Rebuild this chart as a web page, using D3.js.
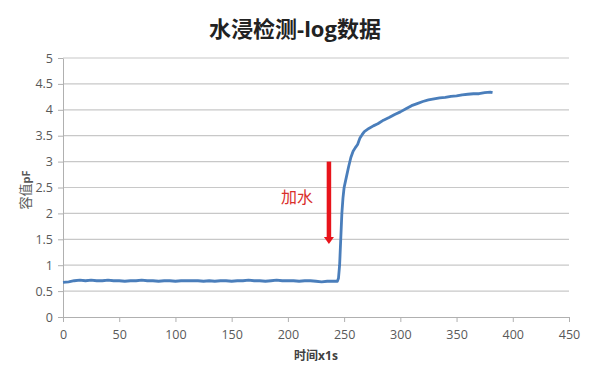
<!DOCTYPE html>
<html>
<head>
<meta charset="utf-8">
<script src="https://cdn.jsdelivr.net/npm/d3@7"></script>
<style>
  body { margin: 0; background: #fff; }
  text { font-family: "Open Sans", "Noto Sans CJK SC", sans-serif; }
</style>
</head>
<body>
<script>
// data
const seconds = [0, 5, 10, 15, 20, 25, 30, 35, 40, 45, 50, 55, 60, 65, 70, 75, 80, 85, 90, 95,
  100, 105, 110, 115, 120, 125, 130, 135, 140, 145, 150, 155, 160, 165, 170, 175, 180, 185, 190, 195,
  200, 205, 210, 215, 220, 225, 230, 235, 240, 244,
  245, 246, 247, 248, 249, 250, 252, 254, 256, 258, 260, 262, 264, 266, 268, 272, 276, 280, 285, 290,
  295, 300, 305, 310, 315, 320, 325, 330, 335, 340, 345, 350, 355, 360, 365, 370, 375, 380, 382];
const capacitance = [0.67, 0.68, 0.70, 0.71, 0.70, 0.71, 0.70, 0.70, 0.71, 0.70, 0.70, 0.69, 0.70, 0.70, 0.71, 0.70, 0.70, 0.69, 0.70, 0.70,
  0.69, 0.70, 0.70, 0.70, 0.70, 0.69, 0.70, 0.69, 0.70, 0.70, 0.69, 0.70, 0.70, 0.71, 0.70, 0.70, 0.69, 0.70, 0.71, 0.70,
  0.70, 0.70, 0.69, 0.70, 0.70, 0.69, 0.68, 0.69, 0.69, 0.69,
  0.75, 1.0, 1.5, 2.0, 2.3, 2.5, 2.7, 2.9, 3.08, 3.2, 3.27, 3.33, 3.45, 3.52, 3.58, 3.64, 3.69, 3.73, 3.80, 3.85,
  3.91, 3.96, 4.02, 4.08, 4.12, 4.16, 4.19, 4.21, 4.23, 4.24, 4.26, 4.27, 4.29, 4.30, 4.31, 4.31, 4.33, 4.34, 4.33];
const xTicks = [0, 50, 100, 150, 200, 250, 300, 350, 400, 450];
const yTicks = [0, 0.5, 1, 1.5, 2, 2.5, 3, 3.5, 4, 4.5, 5];
// annotation: water added
const arrowX = 236.5, arrowFrom = 3.0, arrowTo = 1.41;

const W = 600, H = 371;
const margin = { top: 58, right: 31, bottom: 54, left: 63 },
      width  = W - margin.left - margin.right,
      height = H - margin.top - margin.bottom;

const svg = d3.select("body").append("svg")
  .attr("width", W).attr("height", H);

const g = svg.append("g")
  .attr("transform", `translate(${margin.left},${margin.top})`);

const x = d3.scaleLinear().domain([0, 450]).range([0, width]);
const y = d3.scaleLinear().domain([0, 5]).range([height, 0]);

// gridlines
g.selectAll(".grid")
  .data(yTicks.filter(d => d > 0))
  .enter().append("line")
    .attr("x1", 0).attr("x2", width)
    .attr("y1", d => y(d)).attr("y2", d => y(d))
    .attr("stroke", "#c8c8c8").attr("stroke-width", 1.2);

// axes
const xAxis = g.append("g")
  .attr("transform", `translate(0,${height})`)
  .call(d3.axisBottom(x).tickValues(xTicks).tickSize(5).tickSizeOuter(0));
const yAxis = g.append("g")
  .call(d3.axisLeft(y).tickValues(yTicks).tickFormat(d => d).tickSize(5).tickSizeOuter(0));

[xAxis, yAxis].forEach(a => {
  a.select(".domain").attr("stroke", "#b0b0b0");
  a.selectAll(".tick line").attr("stroke", "#b0b0b0");
  a.selectAll(".tick text").attr("fill", "#595959").attr("font-size", "12.5px");
});
xAxis.selectAll(".tick text").attr("dy", "1.1em");
yAxis.selectAll(".tick text").attr("x", -10);

// series
const pts = seconds.map((s, i) => [s, capacitance[i]]);
g.append("path")
  .datum(pts)
  .attr("fill", "none")
  .attr("stroke", "#4a7ebb")
  .attr("stroke-width", 2.8)
  .attr("stroke-linejoin", "round")
  .attr("d", d3.line().x(d => x(d[0])).y(d => y(d[1])));

// red arrow annotation
g.append("line")
  .attr("x1", x(arrowX)).attr("x2", x(arrowX))
  .attr("y1", y(arrowFrom)).attr("y2", y(arrowTo) - 6)
  .attr("stroke", "#e8141b").attr("stroke-width", 4.5);
g.append("path")
  .attr("d", `M${x(arrowX) - 5},${y(arrowTo) - 7} L${x(arrowX) + 5},${y(arrowTo) - 7} L${x(arrowX)},${y(arrowTo)} Z`)
  .attr("fill", "#e8141b");
g.append("text")
  .attr("x", x(arrowX) - 32).attr("y", y(2.28))
  .attr("text-anchor", "middle")
  .attr("dominant-baseline", "middle")
  .attr("font-family", "Noto Sans CJK SC")
  .attr("font-size", "16px")
  .attr("fill", "#d9302c")
  .text("加水");

// title
svg.append("text")
  .attr("x", 295).attr("y", 37)
  .attr("text-anchor", "middle")
  .attr("font-family", "Noto Sans CJK SC")
  .attr("font-size", "22px")
  .attr("font-weight", "bold")
  .attr("fill", "#222")
  .text("水浸检测-log数据");

// axis titles
svg.append("text")
  .attr("x", margin.left + width / 2).attr("y", 360)
  .attr("text-anchor", "middle")
  .attr("font-family", "Noto Sans CJK SC")
  .attr("font-size", "12px")
  .attr("font-weight", "bold")
  .attr("fill", "#404040")
  .text("时间x1s");

svg.append("text")
  .attr("transform", "rotate(-90)")
  .attr("x", -190).attr("y", 30)
  .attr("text-anchor", "middle")
  .attr("font-family", "Noto Sans CJK SC")
  .attr("font-size", "13px")
  .attr("fill", "#595959")
  .call(t => {
    t.append("tspan").text("容值");
    t.append("tspan").attr("font-weight", "bold").attr("font-size", "11px").text("pF");
  });
</script>
</body>
</html>
